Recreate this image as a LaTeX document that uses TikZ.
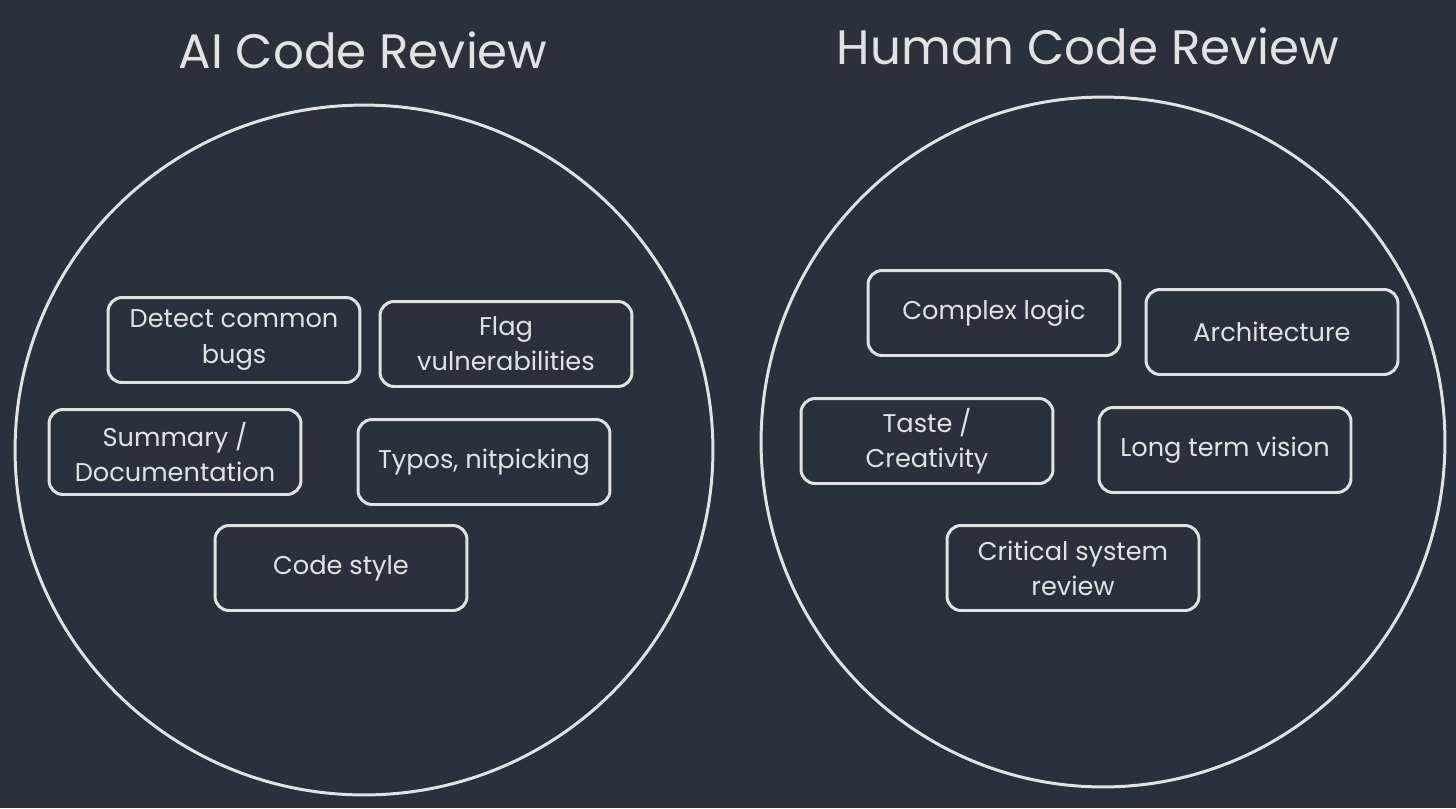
\documentclass[tikz,border=0pt]{standalone}
\usepackage{fontspec}
\setmainfont{Poppins}
\definecolor{bgcol}{HTML}{2B313B}
\definecolor{inkcol}{HTML}{E2E2E2}
\tikzset{
	item/.style={draw=inkcol, text=inkcol, line width=1.7pt, rounded corners=8pt,
		minimum width=5.04cm, minimum height=1.7cm, align=center, font=\fontsize{14.6}{20}\selectfont},
	heading/.style={text=inkcol, font=\fontsize{27.5}{32}\selectfont},
	ring/.style={draw=inkcol, line width=1.7pt}
}
\begin{document}
\begin{tikzpicture}[x=0.02cm,y=-0.02cm]
\fill[bgcol] (0,0) rectangle (1456,808);
\useasboundingbox (0,0) rectangle (1456,808);

% titles
\node[heading] (aititle) at (363,50) {AI Code Review};
\node[heading] (humantitle) at (1088,46) {Human Code Review};

% the two circles
\draw[ring] (364,450) circle[x radius=6.98cm, y radius=6.9cm];
\draw[ring] (1103,442) circle[x radius=6.84cm, y radius=6.9cm];

% AI side
\node[item] (bugs) at (234,340) {Detect common\\bugs};
\node[item] (vuln) at (506,344) {Flag\\vulnerabilities};
\node[item] (docs) at (175,452) {Summary /\\Documentation};
\node[item] (typos) at (484,462) {Typos, nitpicking};
\node[item] (style) at (341,568) {Code style};

% human side
\node[item] (logic) at (994,313) {Complex logic};
\node[item] (arch) at (1272,332) {Architecture};
\node[item] (taste) at (927,441) {Taste /\\Creativity};
\node[item] (vision) at (1225,450) {Long term vision};
\node[item] (critical) at (1073,568) {Critical system\\review};
\end{tikzpicture}
\end{document}
